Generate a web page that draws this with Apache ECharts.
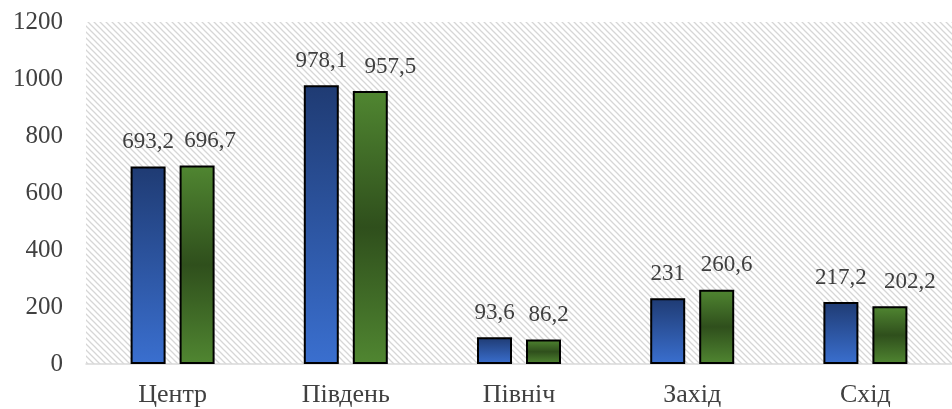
<!DOCTYPE html>
<html>
<head>
<meta charset="utf-8">
<script src="https://cdn.jsdelivr.net/npm/echarts@6/dist/echarts.min.js"></script>
<style>
html, body { margin: 0; padding: 0; background: #fff; }
#main { width: 952px; height: 409px; }
</style>
</head>
<body>
<div id="main"></div>
<script>
var regions = ['Центр', 'Південь', 'Північ', 'Захід', 'Схід'];
var seriesA = [693.2, 978.1, 93.6, 231, 217.2];
var seriesB = [696.7, 957.5, 86.2, 260.6, 202.2];
var yTicks = [0, 200, 400, 600, 800, 1000, 1200];

// зсув підписів другого ряду вправо, як у оригіналі
var nudgeB = [13, 20, 5, 10, 20];

// діагональна штриховка фону
function hatch() {
	var c = document.createElement('canvas');
	c.width = 6;
	c.height = 6;
	var ctx = c.getContext('2d');
	ctx.strokeStyle = '#d6d6d6';
	ctx.lineWidth = 1.3;
	ctx.beginPath();
	ctx.moveTo(0, 0); ctx.lineTo(6, 6);
	ctx.moveTo(-3, 3); ctx.lineTo(3, 9);
	ctx.moveTo(3, -3); ctx.lineTo(9, 3);
	ctx.stroke();
	return c;
}

function fmt(v) {
	return String(v).replace('.', ',');
}

var myChart = echarts.init(document.getElementById('main'));
var font = '"Liberation Serif", "DejaVu Serif", serif';

var label = {
	show: true,
	position: 'top',
	distance: 13,
	color: '#404040',
	fontSize: 23,
	fontFamily: font,
	formatter: function(p) { return fmt(p.value); }
};

var dataB = seriesB.map(function(v, i) {
	return { value: v, label: { offset: [nudgeB[i], 0] } };
});

var option = {
	animation: false,
	grid: {
		left: 86,
		right: 0,
		top: 22,
		bottom: 45,
		show: true,
		borderWidth: 0,
		backgroundColor: { image: hatch(), repeat: 'repeat' }
	},
	xAxis: {
		type: 'category',
		data: regions,
		axisTick: { show: false },
		axisLine: { lineStyle: { color: '#d9d9d9', width: 1.5 } },
		axisLabel: { color: '#404040', fontSize: 26, fontFamily: font, margin: 18 }
	},
	yAxis: {
		type: 'value',
		min: yTicks[0],
		max: yTicks[yTicks.length - 1],
		interval: 200,
		splitLine: { show: false },
		axisLine: { show: false },
		axisTick: { show: false },
		axisLabel: {
			color: '#404040', fontSize: 25, fontFamily: font, margin: 23,
			formatter: function(v) { return String(v); }
		}
	},
	series: [{
		type: 'bar',
		data: seriesA,
		barWidth: 35,
		barGap: '40%',
		itemStyle: {
			borderColor: '#000',
			borderWidth: 2,
			color: {
				type: 'linear', x: 0, y: 0, x2: 0, y2: 1,
				colorStops: [
					{ offset: 0, color: '#1f3b73' },
					{ offset: 1, color: '#3a6fcf' }
				]
			}
		},
		label: label
	}, {
		type: 'bar',
		data: dataB,
		barWidth: 35,
		itemStyle: {
			borderColor: '#000',
			borderWidth: 2,
			color: {
				type: 'linear', x: 0, y: 0, x2: 0, y2: 1,
				colorStops: [
					{ offset: 0, color: '#508631' },
					{ offset: 0.5, color: '#2f4f1c' },
					{ offset: 1, color: '#508631' }
				]
			}
		},
		label: label
	}]
};
myChart.setOption(option);
</script>
</body>
</html>
